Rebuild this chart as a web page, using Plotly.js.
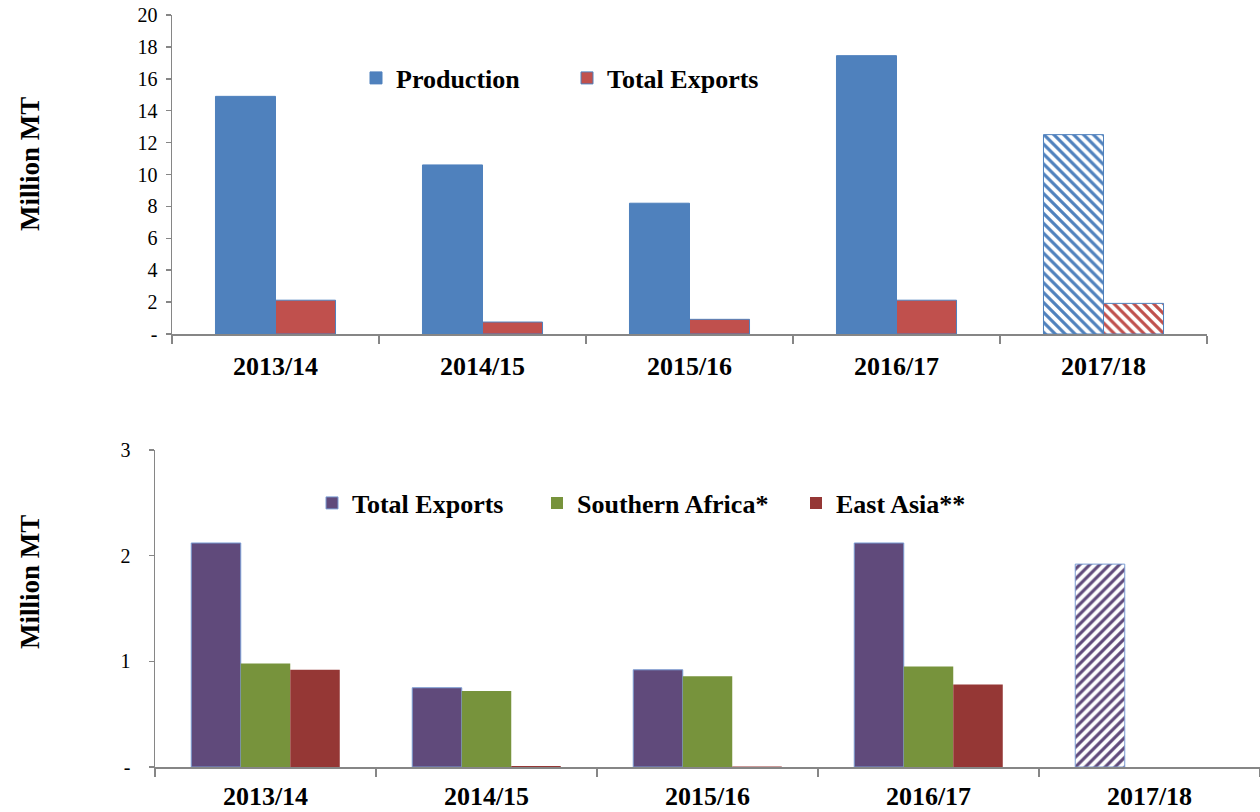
<!DOCTYPE html>
<html>
<head>
<meta charset="utf-8">
<script src="https://cdn.plot.ly/plotly-3.0.1.min.js"></script>
<style>html,body{margin:0;padding:0;background:#fff;}#chart{width:1260px;height:812px;}</style>
</head>
<body>
<div id="chart"></div>
<script>
const categories = ['2013/14', '2014/15', '2015/16', '2016/17', '2017/18'];
const production = [14.9, 10.6, 8.2, 17.45, 12.5];
const totalExports = [2.12, 0.75, 0.92, 2.12, 1.92];
const southernAfrica = [0.98, 0.72, 0.86, 0.95, null];
const eastAsia = [0.92, 0.01, 0.005, 0.78, null];
const forecastFlag = [false, false, false, false, true];
const topTicks = [0, 2, 4, 6, 8, 10, 12, 14, 16, 18, 20];
const topTickText = ['-', '2', '4', '6', '8', '10', '12', '14', '16', '18', '20'];
const bottomTicks = [0, 1, 2, 3];
const bottomTickText = ['-', '1', '2', '3'];
const yTitle = 'Million MT';

const FONT = 'Liberation Serif, Times New Roman, serif';
const AX = '#868686';
const hatch = (shape) => forecastFlag.map(f => f ? shape : '');

const traces = [
  {
    type: 'bar', name: 'Production', x: categories, y: production,
    xaxis: 'x', yaxis: 'y', legend: 'legend', legendwidth: 166,
    width: 0.29, offset: -0.29,
    marker: {color: '#4F81BD', line: {color: '#4F81BD', width: 1},
      pattern: {shape: hatch('\\'), fgcolor: '#4F81BD', bgcolor: '#ffffff', size: 7, solidity: 0.45}},
    hoverinfo: 'x+y'
  },
  {
    type: 'bar', name: 'Total Exports', x: categories, y: totalExports,
    xaxis: 'x', yaxis: 'y', legend: 'legend', legendwidth: 170,
    width: 0.29, offset: 0,
    marker: {color: '#C0504D', line: {color: '#4F81BD', width: 1},
      pattern: {shape: hatch('\\'), fgcolor: '#C0504D', bgcolor: '#ffffff', size: 7, solidity: 0.45}},
    hoverinfo: 'x+y'
  },
  {
    type: 'bar', name: 'Total Exports', x: categories, y: totalExports,
    xaxis: 'x2', yaxis: 'y2', legend: 'legend2', legendwidth: 180,
    width: 0.224, offset: -0.336,
    marker: {color: '#604A7B', line: {color: '#7A9BD3', width: 1},
      pattern: {shape: hatch('/'), fgcolor: '#604A7B', bgcolor: '#ffffff', size: 7, solidity: 0.45}},
    hoverinfo: 'x+y'
  },
  {
    type: 'bar', name: 'Southern Africa*', x: categories, y: southernAfrica,
    xaxis: 'x2', yaxis: 'y2', legend: 'legend2', legendwidth: 214,
    width: 0.224, offset: -0.112,
    marker: {color: '#77933C'},
    hoverinfo: 'x+y'
  },
  {
    type: 'bar', name: 'East Asia**', x: categories, y: eastAsia,
    xaxis: 'x2', yaxis: 'y2', legend: 'legend2', legendwidth: 140,
    width: 0.224, offset: 0.112,
    marker: {color: '#953735'},
    hoverinfo: 'x+y'
  }
];

const xCommon = {
  type: 'category', showline: true, linecolor: AX, linewidth: 1.5,
  ticks: 'outside', tickson: 'boundaries', ticklen: 8, tickcolor: AX, tickwidth: 1.5,
  showgrid: false, zeroline: false,
  tickfont: {family: FONT, size: 26, color: '#000', weight: 'bold'}
};
const yCommon = {
  showline: true, linecolor: AX, linewidth: 1.5,
  ticks: 'outside', ticklen: 5, tickcolor: AX, tickwidth: 1.5,
  showgrid: false, zeroline: false,
  tickfont: {family: FONT, size: 20, color: '#000'}
};
const titleFont = {family: FONT, size: 27, color: '#000', weight: 'bold'};

const layout = {
  width: 1260, height: 812,
  margin: {l: 0, r: 0, t: 0, b: 0},
  paper_bgcolor: '#ffffff', plot_bgcolor: '#ffffff',
  barmode: 'group',
  font: {family: FONT, color: '#000'},
  xaxis: Object.assign({}, xCommon, {domain: [172 / 1260, 1207 / 1260], anchor: 'y', ticklabelstandoff: 8}),
  yaxis: Object.assign({}, yCommon, {domain: [1 - 334 / 812, 1 - 15 / 812], anchor: 'x',
    range: [0, 20], tickvals: topTicks, ticktext: topTickText, ticklabelstandoff: 4}),
  xaxis2: Object.assign({}, xCommon, {domain: [155 / 1260, 1], anchor: 'y2', ticklabelstandoff: 5}),
  yaxis2: Object.assign({}, yCommon, {domain: [1 - 767 / 812, 1 - 450 / 812], anchor: 'x2',
    range: [0, 3], tickvals: bottomTicks, ticktext: bottomTickText, ticklabelstandoff: 14}),
  annotations: [
    {text: yTitle, textangle: -90, xref: 'paper', yref: 'paper', x: 30 / 1260, y: 1 - 164 / 812,
      xanchor: 'center', yanchor: 'middle', showarrow: false, font: titleFont},
    {text: yTitle, textangle: -90, xref: 'paper', yref: 'paper', x: 30 / 1260, y: 1 - 582 / 812,
      xanchor: 'center', yanchor: 'middle', showarrow: false, font: titleFont}
  ],
  legend: {orientation: 'h', x: 356 / 1260, xanchor: 'left', y: 1 - 78 / 812, yanchor: 'middle',
    bgcolor: 'rgba(0,0,0,0)', font: {family: FONT, size: 26, color: '#000', weight: 'bold'}},
  legend2: {orientation: 'h', x: 312 / 1260, xanchor: 'left', y: 1 - 503 / 812, yanchor: 'middle',
    bgcolor: 'rgba(0,0,0,0)', font: {family: FONT, size: 26, color: '#000', weight: 'bold'}},
  showlegend: true
};

Plotly.newPlot('chart', traces, layout, {displayModeBar: false, staticPlot: true});
</script>
</body>
</html>
